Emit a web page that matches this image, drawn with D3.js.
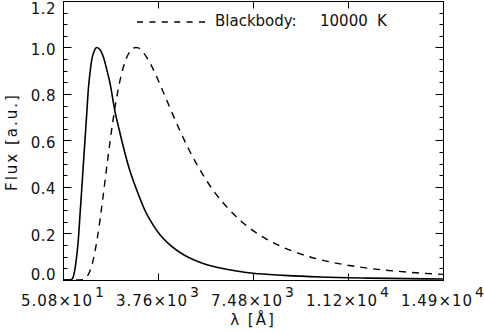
<!DOCTYPE html>
<html>
<head>
<meta charset="utf-8">
<script src="https://cdn.jsdelivr.net/npm/d3@7"></script>
<style>
  body { margin: 0; background: #fff; }
  text { font-family: "DejaVu Sans", sans-serif; fill: #111; }
</style>
</head>
<body>
<svg id="chart" width="484" height="333"></svg>
<script>
// blackbody 10000 K (dashed)
var bbLambda = [50.8, 400, 600, 700, 800, 900, 1000, 1100, 1200, 1300, 1400, 1500, 1600, 1800, 2000,
                2200, 2400, 2600, 2800, 2900, 3000, 3200, 3500, 3800, 4200, 4600, 5000, 5500, 6000,
                6500, 7000, 8000, 9000, 10000, 11000, 12000, 13000, 14000, 14900];
var bbFlux = [0, 0, 0, 0.0002, 0.0014, 0.0056, 0.0164, 0.0377, 0.0727, 0.122, 0.186, 0.261, 0.345, 0.520, 0.683,
              0.816, 0.912, 0.971, 0.997, 1.0, 0.998, 0.977, 0.923, 0.852, 0.748, 0.647, 0.555, 0.456, 0.374,
              0.308, 0.254, 0.176, 0.125, 0.0904, 0.0669, 0.0504, 0.0387, 0.0301, 0.0243];

// solid spectrum
var specLambda = [50.8, 300, 400, 453, 550, 649, 715, 781, 845, 910, 975, 1039, 1105, 1172, 1270, 1368,
                  1500, 1626, 1750, 1887, 2083, 2250, 2407, 2650, 2931, 3250, 3580, 3841, 4300, 4700,
                  5131, 5500, 6500, 7480, 8700, 10100, 12000, 14900];
var specFlux = [0, 0, 0.004, 0.014, 0.07, 0.172, 0.28, 0.387, 0.495, 0.602, 0.71, 0.817, 0.89, 0.946, 0.985, 1.0,
                0.99, 0.960, 0.91, 0.847, 0.724, 0.645, 0.573, 0.475, 0.387, 0.3, 0.235, 0.195, 0.145, 0.113,
                0.088, 0.072, 0.045, 0.029, 0.02, 0.013, 0.008, 0.004];

var xTicks = [50.8, 3763.1, 7475.4, 11187.7, 14900];
var xTickMant = ["5.08", "3.76", "7.48", "1.12", "1.49"];
var xTickExp = ["1", "3", "3", "4", "4"];
var yTicks = [0, 0.2, 0.4, 0.6, 0.8, 1.0, 1.2];
var yTickLabels = ["0.0", "0.2", "0.4", "0.6", "0.8", "1.0", "1.2"];
var yMinor = d3.range(0, 1.2001, 0.05);

var svg = d3.select('#chart');
var plot = {"left": 63, "right": 443, "top": 1, "bottom": 280};

var x = d3.scaleLinear()
          .domain([50.8, 14900])
          .range([plot.left, plot.right]);
var y = d3.scaleLinear()
          .domain([0, 1.2])
          .range([plot.bottom, plot.top]);

var g = svg.append('g').attr('transform', 'translate(0.5,0.5)');

// frame
g.append('rect')
    .attr('x', plot.left)
    .attr('y', plot.top)
    .attr('width', plot.right - plot.left)
    .attr('height', plot.bottom - plot.top)
    .attr('fill', 'none')
    .attr('stroke', '#000')
    .attr('stroke-width', 1);

// x ticks, bottom and top, pointing in
g.selectAll('.xtick')
    .data(xTicks)
    .enter()
    .append('path')
    .attr('d', d => 'M' + Math.round(x(d)) + ',' + plot.bottom + 'v-7M' + Math.round(x(d)) + ',' + plot.top + 'v7')
    .attr('stroke', '#000');

// y ticks, left and right
g.selectAll('.ytick')
    .data(yMinor)
    .enter()
    .append('path')
    .attr('d', function (d, i) {
        var len = (i % 4 == 0) ? 8 : 4;
        var yy = Math.round(y(d));
        return 'M' + plot.left + ',' + yy + 'h' + len + 'M' + plot.right + ',' + yy + 'h' + (-len);
    })
    .attr('stroke', '#000');

// x tick labels with exponent
var xl = svg.selectAll('.xlab')
    .data(xTicks)
    .enter()
    .append('text')
    .attr('x', d => x(d))
    .attr('y', 306)
    .attr('text-anchor', 'middle')
    .style('font-size', '15px')
    .style('letter-spacing', '1px');
xl.append('tspan').text((d, i) => xTickMant[i] + '\u00d710');
xl.append('tspan')
    .attr('dx', 2)
    .attr('dy', -9)
    .style('font-size', '14px')
    .text((d, i) => xTickExp[i]);

// y tick labels (end ones kept inside the frame)
svg.selectAll('.ylab')
    .data(yTicks)
    .enter()
    .append('text')
    .attr('x', 56)
    .attr('y', d => Math.max(14, Math.min(280, y(d) + 7)))
    .attr('text-anchor', 'end')
    .style('font-size', '15px')
    .style('letter-spacing', '0.5px')
    .text((d, i) => yTickLabels[i]);

// axis titles
svg.append('text')
    .attr('x', 253)
    .attr('y', 325)
    .attr('text-anchor', 'middle')
    .style('font-size', '15px')
    .style('letter-spacing', '2px')
    .text('\u03bb [\u00c5]');

svg.append('text')
    .attr('transform', 'translate(17,142) rotate(-90)')
    .attr('text-anchor', 'middle')
    .style('font-size', '15px')
    .style('letter-spacing', '2px')
    .text('Flux [a.u.]');

// curves
var line = d3.line()
    .x(d => x(d[0]))
    .y(d => y(d[1]))
    .curve(d3.curveMonotoneX);

svg.append('path')
    .datum(specLambda.map((l, i) => [l, specFlux[i]]))
    .attr('d', line)
    .attr('fill', 'none')
    .attr('stroke', '#000')
    .attr('stroke-width', 1.6);

svg.append('path')
    .datum(bbLambda.map((l, i) => [l, bbFlux[i]]))
    .attr('d', line)
    .attr('fill', 'none')
    .attr('stroke', '#000')
    .attr('stroke-width', 1.4)
    .attr('stroke-dasharray', '7,6');

// legend
svg.append('line')
    .attr('x1', 137).attr('x2', 205)
    .attr('y1', 22).attr('y2', 22)
    .attr('stroke', '#000')
    .attr('stroke-width', 1.4)
    .attr('stroke-dasharray', '6,6.4');

var leg = svg.append('text')
    .attr('y', 26)
    .style('font-size', '15px');
leg.append('tspan').attr('x', 215).text('Blackbody:');
leg.append('tspan').attr('x', 320).text('10000');
leg.append('tspan').attr('x', 377).text('K');
</script>
</body>
</html>
